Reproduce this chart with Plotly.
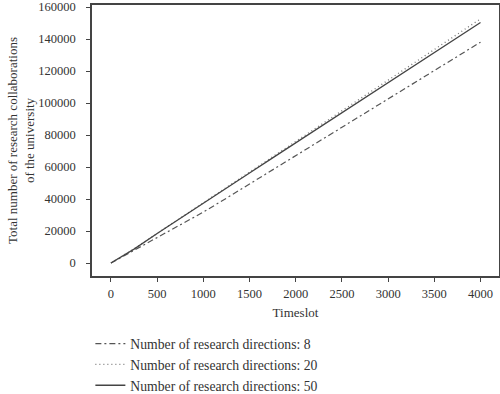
import plotly.graph_objects as go

timeslot = [0, 250, 500, 750, 1000, 1250, 1500, 1750, 2000, 2250, 2500, 2750, 3000, 3250, 3500, 3750, 4000]
dirs_8 = [0, 8000, 15500, 23500, 31800, 40500, 49400, 58300, 67200, 76100, 85000, 93900, 102800, 111700, 120600, 129400, 138000]
dirs_20 = [0, 8800, 18500, 28100, 37800, 47300, 56900, 66500, 76100, 85600, 95200, 104800, 114400, 123900, 133500, 143000, 152600]
dirs_50 = [0, 8700, 18400, 28000, 37500, 46900, 56300, 65700, 75100, 84500, 93900, 103300, 112700, 122100, 131500, 140900, 150300]
names = ["Number of research directions: 8", "Number of research directions: 20", "Number of research directions: 50"]
x_ticks = [0, 500, 1000, 1500, 2000, 2500, 3000, 3500, 4000]
y_ticks = [0, 20000, 40000, 60000, 80000, 100000, 120000, 140000, 160000]

FONT = "Liberation Serif"
fig = go.Figure()
fig.add_trace(go.Scatter(x=timeslot, y=dirs_8, mode="lines", name=names[0], legendgroup="a",
                         line=dict(color="#555555", width=1.2, dash="6px,3px,2px,3px")))
fig.add_trace(go.Scatter(x=timeslot, y=dirs_20, mode="lines", name=names[1], legendgroup="b",
                         line=dict(color="#777777", width=1.3, dash="1px,3px")))
fig.add_trace(go.Scatter(x=timeslot, y=dirs_50, mode="lines", name=names[2], legendgroup="c",
                         line=dict(color="#444444", width=1.3)))

fig.update_layout(
    width=500, height=394,
    margin=dict(l=92, r=1, t=5, b=118),
    paper_bgcolor="white", plot_bgcolor="white",
    font=dict(family=FONT, size=12, color="#333333"),
    showlegend=True,
    legend=dict(orientation="v", xref="paper", yref="container", x=-0.004, xanchor="left",
                y=0.167, yanchor="top",
                tracegroupgap=0, itemwidth=30, font=dict(size=13.7, family=FONT)),
    xaxis=dict(range=[-205, 4200], tickvals=x_ticks, tickformat="d", showgrid=False, zeroline=False,
               showline=True, linecolor="#444444", linewidth=1.5, mirror=True, automargin=False,
               ticks="outside", ticklen=4, tickcolor="#444444", tickwidth=1.3, ticklabelstandoff=1,
               tickfont=dict(size=12.5), title=dict(text="Timeslot", standoff=8, font=dict(size=13))),
    yaxis=dict(range=[-8125, 161250], tickvals=y_ticks, tickformat="d", showgrid=False, zeroline=False,
               showline=True, linecolor="#444444", linewidth=1.5, mirror=True, automargin=False,
               ticks="outside", ticklen=4, tickcolor="#444444", tickwidth=1.3, ticklabelstandoff=8,
               ticklabeloverflow="allow", tickfont=dict(size=12.5),
               title=dict(text="Total number of research collaborations<br>of the university", standoff=1,
                          font=dict(size=13))),
)
fig.write_html("out.html", config={"displayModeBar": False},
               post_script="document.body.style.margin='0';")
